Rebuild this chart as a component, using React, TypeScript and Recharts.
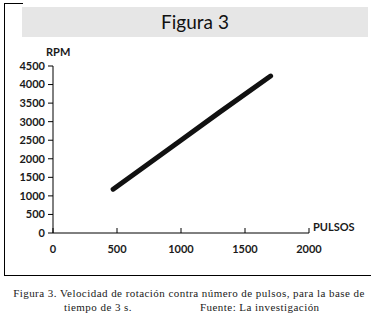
import { LineChart, Line, XAxis, YAxis } from "recharts";

const PULSES = [470, 700, 1000, 1300, 1700];
const RPM = [1180, 1750, 2500, 3250, 4230];
const X_TICKS = [0, 500, 1000, 1500, 2000];
const Y_TICKS = [0, 500, 1000, 1500, 2000, 2500, 3000, 3500, 4000, 4500];

const TITLE = "Figura 3";
const Y_LABEL = "RPM";
const X_LABEL = "PULSOS";
const CAPTION_1 = "Figura 3. Velocidad de rotación contra número de pulsos, para la base de";
const CAPTION_2A = "tiempo de 3 s.";
const CAPTION_2B = "Fuente: La investigación";

const data = PULSES.map((p, i) => ({ pulses: p, rpm: RPM[i] }));

const SANS = "Lato, 'Open Sans', sans-serif";
const SERIF = "'Liberation Serif', serif";
const INK = "#1a1a1a";

const captionStyle = {
  position: "absolute" as const,
  fontFamily: SERIF,
  fontSize: 11,
  letterSpacing: 0.45,
  color: INK,
  whiteSpace: "nowrap" as const,
};

const XTick = (props: any) => {
  const { x, y, payload } = props;
  return (
    <g>
      <line x1={x} x2={x} y1={y} y2={y - 5} stroke="#000" />
      <text x={x} y={y + 20} textAnchor="middle" fontSize={11} fontWeight={700} fill={INK} fontFamily={SANS}>
        {payload.value}
      </text>
    </g>
  );
};

const App = () => {
  return (
    <div style={{ position: "absolute", left: 0, top: 0, width: 375, height: 317, background: "#fff", overflow: "hidden" }}>
      {/* frame: left, bottom and a stub on top */}
      <div style={{ position: "absolute", left: 4, top: 3, width: 1, height: 272, background: "#000" }} />
      <div style={{ position: "absolute", left: 4, top: 3, width: 19, height: 1, background: "#000" }} />
      <div style={{ position: "absolute", left: 4, top: 275, width: 367, height: 1, background: "#000" }} />
      <div
        style={{
          position: "absolute",
          left: 22,
          top: 7,
          width: 346,
          height: 30,
          background: "#e6e6e6",
          textAlign: "center",
          lineHeight: "30px",
          fontFamily: SANS,
          fontSize: 19,
          color: "#111",
        }}
      >
        {TITLE}
      </div>

      <LineChart
        width={375}
        height={317}
        data={data}
        margin={{ top: 66, right: 66, bottom: 54, left: 0 }}
        style={{ position: "absolute", left: 0, top: 0 }}
      >
        <XAxis
          dataKey="pulses"
          type="number"
          domain={[0, 2000]}
          ticks={X_TICKS}
          tickSize={0}
          tickMargin={0}
          tick={<XTick />}
          height={30}
          axisLine={{ stroke: "#000" }}
          tickLine={false}
        />
        <YAxis
          dataKey="rpm"
          type="number"
          domain={[0, 4500]}
          ticks={Y_TICKS}
          width={53}
          tickSize={5}
          tickMargin={3}
          interval={0}
          axisLine={{ stroke: "#000" }}
          tickLine={{ stroke: "#000" }}
          tick={{ fontSize: 11, fontWeight: 700, fill: INK, fontFamily: SANS }}
        />
        <Line
          dataKey="rpm"
          type="linear"
          stroke="#111"
          strokeWidth={5}
          strokeLinecap="round"
          dot={false}
          isAnimationActive={false}
        />
      </LineChart>

      <div style={{ position: "absolute", left: 46, top: 45, fontFamily: SANS, fontSize: 11, fontWeight: 700, color: INK }}>
        {Y_LABEL}
      </div>
      <div style={{ position: "absolute", left: 313, top: 220, fontFamily: SANS, fontSize: 11, fontWeight: 700, color: INK }}>
        {X_LABEL}
      </div>

      <div style={{ ...captionStyle, left: 0, top: 287, width: 378, textAlign: "center" }}>{CAPTION_1}</div>
      <div style={{ ...captionStyle, left: 64, top: 301 }}>{CAPTION_2A}</div>
      <div style={{ ...captionStyle, left: 200, top: 301 }}>{CAPTION_2B}</div>
    </div>
  );
};

export default App;
